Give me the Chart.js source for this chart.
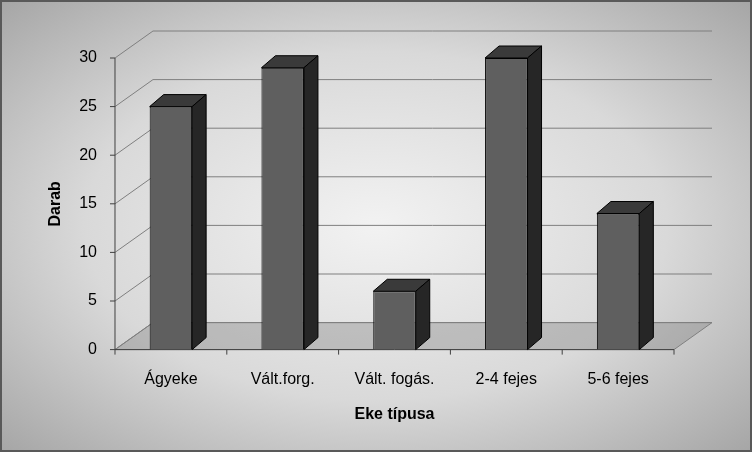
<!DOCTYPE html>
<html><head><meta charset="utf-8">
<script src="https://cdn.jsdelivr.net/npm/chart.js@4"></script>
<style>
body{margin:0;}
#wrap{width:748px;height:448px;border:2px solid #595959;background:radial-gradient(ellipse at center,#f2f2f2 0%,#d9d9d9 55%,#a6a6a6 100%);}
</style></head>
<body><div id="wrap"><canvas id="c" width="748" height="448"></canvas></div>
<script>
const categories = ["Ágyeke", "Vált.forg.", "Vált. fogás.", "2-4 fejes", "5-6 fejes"];
const values = [25, 29, 6, 30, 14];
const yTicks = [0, 5, 10, 15, 20, 25, 30];

const DX = 38, DY = -27;   // wall depth
const BX = 14, BY = -12;   // bar depth

const threeD = {
    id: "threeD",
    beforeDatasetsDraw(chart) {
        const { ctx, chartArea: a, scales: { y } } = chart;
        ctx.save();
        // floor
        ctx.fillStyle = "rgba(120,120,120,0.35)";
        ctx.beginPath();
        ctx.moveTo(a.left, a.bottom); ctx.lineTo(a.right, a.bottom);
        ctx.lineTo(a.right + DX, a.bottom + DY); ctx.lineTo(a.left + DX, a.bottom + DY);
        ctx.closePath(); ctx.fill();
        ctx.strokeStyle = "#7f7f7f"; ctx.lineWidth = 1;
        ctx.stroke();
        yTicks.forEach(v => {
            const py = y.getPixelForValue(v);
            ctx.beginPath();
            ctx.moveTo(a.left, py);
            ctx.lineTo(a.left + DX, py + DY);
            ctx.lineTo(a.right + DX, py + DY);
            ctx.stroke();
        });
        // front axes
        ctx.strokeStyle = "#404040";
        ctx.beginPath();
        ctx.moveTo(a.left, y.getPixelForValue(30)); ctx.lineTo(a.left, a.bottom); ctx.lineTo(a.right, a.bottom);
        ctx.stroke();
        const step = (a.right - a.left) / categories.length;
        for (let i = 0; i <= categories.length; i++) {
            const px = a.left + i * step;
            ctx.beginPath(); ctx.moveTo(px, a.bottom); ctx.lineTo(px, a.bottom + 5); ctx.stroke();
        }
        yTicks.forEach(v => {
            const py = y.getPixelForValue(v);
            ctx.beginPath(); ctx.moveTo(a.left - 5, py); ctx.lineTo(a.left, py); ctx.stroke();
        });
        ctx.restore();
    },
    afterDatasetsDraw(chart) {
        const { ctx } = chart;
        ctx.save();
        ctx.strokeStyle = "#000"; ctx.lineWidth = 1;
        chart.getDatasetMeta(0).data.forEach(bar => {
            const l = bar.x - bar.width / 2, r = bar.x + bar.width / 2, t = bar.y, b = bar.base;
            ctx.fillStyle = "#3a3a3a";
            ctx.beginPath();
            ctx.moveTo(l, t); ctx.lineTo(l + BX, t + BY); ctx.lineTo(r + BX, t + BY); ctx.lineTo(r, t);
            ctx.closePath(); ctx.fill(); ctx.stroke();
            ctx.fillStyle = "#262626";
            ctx.beginPath();
            ctx.moveTo(r, t); ctx.lineTo(r + BX, t + BY); ctx.lineTo(r + BX, b + BY); ctx.lineTo(r, b);
            ctx.closePath(); ctx.fill(); ctx.stroke();
        });
        ctx.restore();
    }
};

new Chart(document.getElementById("c"), {
    type: "bar",
    data: {
        labels: categories,
        datasets: [{
            data: values,
            backgroundColor: "#5f5f5f",
            borderColor: "#000",
            borderWidth: 1,
            barPercentage: 0.38,
            categoryPercentage: 1
        }]
    },
    options: {
        responsive: false,
        animation: false,
        layout: { padding: { top: 56, right: 76, left: 40, bottom: 22 } },
        plugins: { legend: { display: false }, tooltip: { enabled: false } },
        scales: {
            x: {
                grid: { display: false }, border: { display: false },
                ticks: { color: "#000", font: { family: "Liberation Sans", size: 16 }, padding: 12 },
                title: { display: true, text: "Eke típusa", color: "#000", font: { family: "Liberation Sans", size: 16, weight: "bold" } }
            },
            y: {
                min: 0, max: 30,
                grid: { display: false }, border: { display: false },
                ticks: { stepSize: 5, color: "#000", font: { family: "Liberation Sans", size: 16 }, padding: 10 },
                title: { display: true, text: "Darab", color: "#000", font: { family: "Liberation Sans", size: 16, weight: "bold" } }
            }
        }
    },
    plugins: [threeD]
});
</script></body></html>
